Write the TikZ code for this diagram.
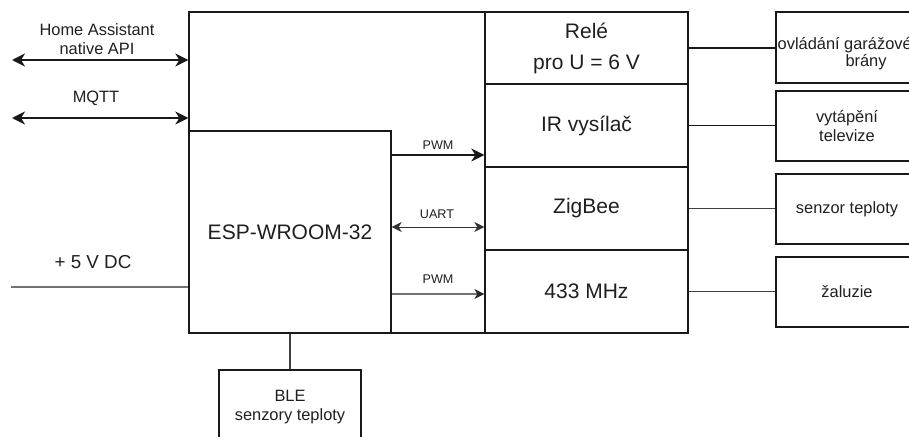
\documentclass[tikz,border=0pt]{standalone}
\usepackage{fontspec}
\setmainfont{Liberation Sans}
\usetikzlibrary{arrows.meta}
\tikzset{
  blk/.style={draw=black!90, line width=1.3pt, inner sep=0pt, anchor=center},
  bigtxt/.style={font=\fontsize{21}{31}\selectfont, align=center, inner sep=0pt, text=black!88},
  midtxt/.style={font=\fontsize{16.4}{19}\selectfont, align=center, inner sep=0pt, text=black!88},
  smalltxt/.style={font=\fontsize{12.6}{14}\selectfont, inner sep=0pt, text=black!88},
  hvyln/.style={line width=2.7pt, draw=black!90},
  thickln/.style={line width=2.2pt, draw=black!90},
  thinln/.style={line width=1.3pt, draw=black!75},
  grayln/.style={line width=1.2pt, draw=black!55},
  bigtip/.tip={Stealth[length=13pt,width=13pt,inset=4pt]},
  medtip/.tip={Stealth[length=13pt,width=13pt,inset=4pt]},
  smtip/.tip={Stealth[length=10pt,width=10pt,inset=3pt]},
  smdarktip/.tip={Stealth[length=10pt,width=10pt,inset=3pt,black!85]},
}
\begin{document}
\begin{tikzpicture}[x=1pt,y=-1pt]
\useasboundingbox (0,0) rectangle (909,436);
\clip (0,0) rectangle (909,436);
% main frame
\node[blk, minimum width=499pt, minimum height=321pt] (hub) at (438.5,172.5) {};
\node[blk, minimum width=202pt, minimum height=202pt, bigtxt] (esp) at (290,232) {ESP-WROOM-32};
% right column
\node[blk, minimum width=203pt, minimum height=72pt, bigtxt] (rele) at (586.5,48) {Relé\\pro U = 6 V};
\node[blk, minimum width=203pt, minimum height=83pt, bigtxt] (ir) at (586.5,125.5) {IR vysílač};
\node[blk, minimum width=203pt, minimum height=83pt, bigtxt] (zig) at (586.5,208.5) {ZigBee};
\node[blk, minimum width=203pt, minimum height=83pt, bigtxt] (mhz) at (586.5,291.5) {433 MHz};
% external boxes
\node[blk, minimum width=200pt, minimum height=71pt] (b1) at (876,47.5) {};
\node[blk, minimum width=142pt, minimum height=70pt, midtxt] (b2) at (847,126) {vytápění\\televize};
\node[blk, minimum width=142pt, minimum height=70pt, midtxt] (b3) at (847,209) {senzor teploty};
\node[blk, minimum width=142pt, minimum height=70pt, midtxt] (b4) at (847,292) {žaluzie};
\node[midtxt, anchor=west] (b1a) at (777.5,45) {ovládání garážové};
\node[midtxt] (b1b) at (866,62) {brány};
\node[blk, minimum width=142pt, minimum height=80pt] (ble) at (290,410) {};
\node[midtxt] (blet) at (290,407) {BLE\\senzory teploty};
% left labels
\node[midtxt] (halbl) at (97,39) {Home Assistant\\native API};
\node[midtxt] (mqlbl) at (96,98) {MQTT};
\node[font=\fontsize{18.8}{22}\selectfont, inner sep=0pt, text=black!88] (vlbl) at (93,262) {+ 5 V DC};
\node[smalltxt] (pw1lbl) at (438,145) {PWM};
\node[smalltxt] (uartlbl) at (437,214) {UART};
\node[smalltxt] (pw2lbl) at (438,279) {PWM};
% coordinates
\coordinate (haL) at (12,60);
\coordinate (mqL) at (12,118);
\coordinate (vL) at (11,287);
\coordinate (yp1) at (0,155);
\coordinate (yua) at (0,227);
\coordinate (yp2) at (0,294);
% connectors
\draw[hvyln, bigtip-bigtip] (haL) -- (haL -| hub.west);
\draw[hvyln, bigtip-bigtip] (mqL) -- (mqL -| hub.west);
\draw[grayln] (vL) -- (vL -| esp.west);
\draw[thickln, -medtip] (esp.east |- yp1) -- (ir.west |- yp1);
\draw[line width=1pt, draw=black!80, smtip-smtip] (esp.east |- yua) -- (zig.west |- yua);
\draw[grayln, -smdarktip] (esp.east |- yp2) -- (mhz.west |- yp2);
\draw[thinln] (esp.south) -- (ble.north);
\draw[thickln] (rele.east) -- (rele.east -| b1.west);
\draw[thickln, line width=1.9pt] (ir.east) -- (ir.east -| b2.west);
\draw[thinln] (zig.east) -- (zig.east -| b3.west);
\draw[thinln] (mhz.east) -- (mhz.east -| b4.west);
\end{tikzpicture}
\end{document}
